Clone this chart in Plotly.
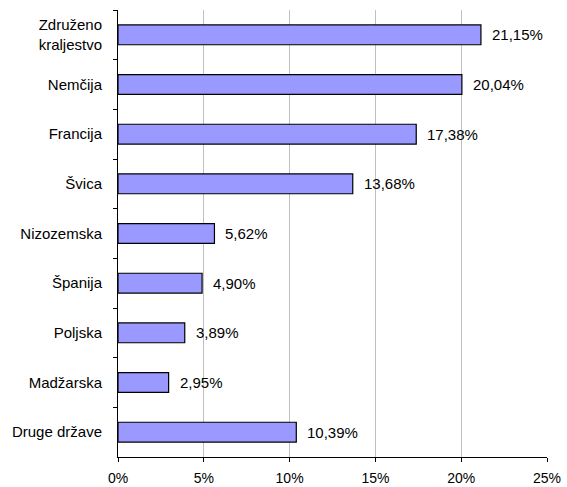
import plotly.graph_objects as go

categories = ["Združeno<br>kraljestvo", "Nemčija", "Francija", "Švica", "Nizozemska",
              "Španija", "Poljska", "Madžarska", "Druge države"]
values = [21.15, 20.04, 17.38, 13.68, 5.62, 4.90, 3.89, 2.95, 10.39]
x_ticks = [0, 5, 10, 15, 20, 25]
x_tick_labels = ["0%", "5%", "10%", "15%", "20%", "25%"]

labels = [f"{v:.2f}".replace(".", ",") + "%" for v in values]
FONT = "Liberation Sans, Arial, sans-serif"
FS = 15

fig = go.Figure(go.Bar(
    y=categories, x=values, orientation="h",
    marker=dict(color="#9999FF", line=dict(color="black", width=1.2)),
    width=0.4, hoverinfo="skip",
))

for c, v, t in zip(categories, values, labels):
    fig.add_annotation(x=v, y=c, text=t, showarrow=False, xanchor="left",
                       xshift=9, font=dict(family=FONT, size=FS, color="black"))

fig.update_layout(
    width=567, height=487,
    margin=dict(l=118, r=20, t=10, b=30),
    plot_bgcolor="white", paper_bgcolor="white",
    font=dict(family=FONT, size=FS, color="black"),
    showlegend=False,
)
fig.update_xaxes(
    range=[0, 25], tickvals=x_ticks, ticktext=x_tick_labels,
    tickfont=dict(size=14),
    showgrid=True, gridcolor="#C0C0C0", gridwidth=1,
    showline=True, linecolor="black", linewidth=1,
    ticks="outside", ticklen=4, tickcolor="black",
    zeroline=False, automargin=False, ticklabelstandoff=4,
)
fig.update_yaxes(
    autorange="reversed", showline=True, linecolor="black", linewidth=1,
    ticks="outside", ticklen=4, tickcolor="black", tickson="boundaries",
    showgrid=False, ticklabelstandoff=12, automargin=False,
)

fig.write_html("out.html", config={"displayModeBar": False},
               post_script="document.body.style.margin='0';")
